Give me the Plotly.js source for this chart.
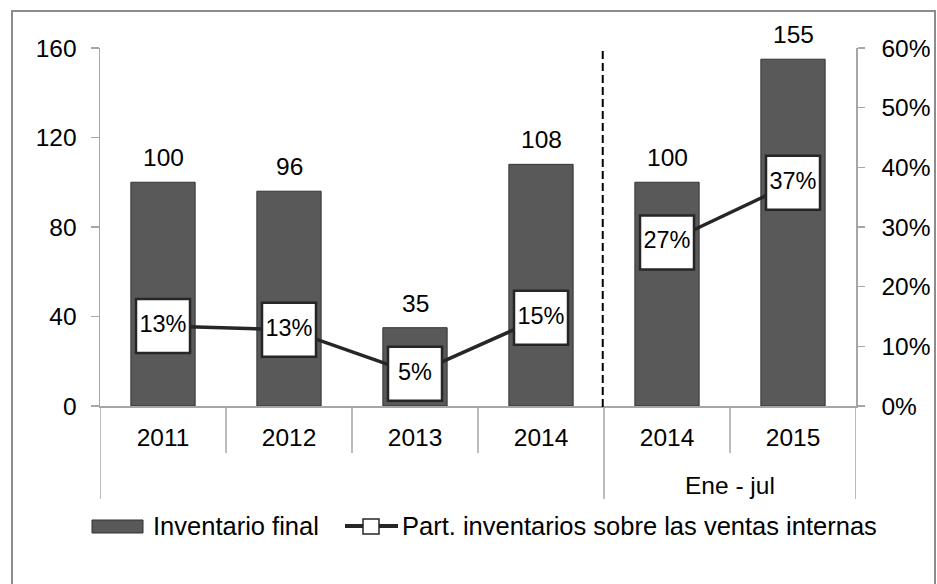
<!DOCTYPE html>
<html>
<head>
<meta charset="utf-8">
<script src="https://cdn.plot.ly/plotly-3.0.1.min.js"></script>
<style>html,body{margin:0;padding:0;background:#fff;}#chart{width:937px;height:584px;}</style>
</head>
<body>
<div id="chart"></div>
<script>
// ---- data ----
var categories = ["2011", "2012", "2013", "2014", "2014", "2015"];
var inventarioFinal = [100, 96, 35, 108, 100, 155];
var participacion = [13.4, 12.8, 5.4, 14.8, 27.4, 37.4];
var participacionLabels = ["13%", "13%", "5%", "15%", "27%", "37%"];
var leftTicks = [0, 40, 80, 120, 160];
var rightTicks = [0, 10, 20, 30, 40, 50, 60];
var rightTickText = ["0%", "10%", "20%", "30%", "40%", "50%", "60%"];
var periodLabel = "Ene - jul";
var legendBar = "Inventario final";
var legendLine = "Part. inventarios sobre las ventas internas";

var FONT = '"Liberation Sans", Arial, sans-serif';
var idx = categories.map(function (c, i) { return i; });
var annualIdx = [0, 1, 2, 3];
var periodIdx = [4, 5];

// geometry helpers (plot area: x 100..856, y 48..406)
var L = 100, R = 856, T = 48, B = 406;
function px(x) { return (x - L) / (R - L); }
function py(y) { return (B - y) / (B - T); }

var bars = {
  type: 'bar', x: idx, y: inventarioFinal, width: 0.51,
  marker: { color: '#595959', line: { color: '#333333', width: 1 } },
  showlegend: false, hoverinfo: 'y'
};

function lineTrace(ix) {
  return {
    type: 'scatter', mode: 'lines+markers+text', yaxis: 'y2',
    x: ix, y: ix.map(function (i) { return participacion[i]; }),
    text: ix.map(function (i) { return participacionLabels[i]; }),
    textposition: 'middle center',
    textfont: { family: FONT, size: 23.5, color: '#000' },
    line: { color: '#262626', width: 3.5 },
    marker: { symbol: 'square', size: 54, color: '#ffffff', line: { color: '#262626', width: 2.5 } },
    cliponaxis: false, showlegend: false, hoverinfo: 'y'
  };
}

var annotations = idx.map(function (i) {
  return {
    x: i, y: inventarioFinal[i], xref: 'x', yref: 'y', text: String(inventarioFinal[i]),
    showarrow: false, yanchor: 'bottom', yshift: 9,
    font: { family: FONT, size: 24.5, color: '#000' }
  };
});
annotations.push({
  x: (periodIdx[0] + periodIdx[1]) / 2, xref: 'x', y: py(485), yref: 'paper', text: periodLabel,
  showarrow: false, yanchor: 'middle', font: { family: FONT, size: 24.5, color: '#000' }
});
annotations.push({
  x: px(151), y: py(526), xref: 'paper', yref: 'paper', text: legendBar, showarrow: false,
  xanchor: 'left', yanchor: 'middle', font: { family: FONT, size: 25.5, color: '#000' }
});
annotations.push({
  x: px(400), y: py(526), xref: 'paper', yref: 'paper', text: legendLine, showarrow: false,
  xanchor: 'left', yanchor: 'middle', font: { family: FONT, size: 25.5, color: '#000' }
});

var GRID = '#a6a6a6';
var shapes = [];
// outer frame
shapes.push({ type: 'rect', xref: 'paper', yref: 'paper', x0: px(12), x1: px(935), y0: py(600), y1: py(11),
  line: { color: '#8c8c8c', width: 2 }, fillcolor: 'rgba(0,0,0,0)', layer: 'below' });
// category dividers below axis
[0.5, 1.5, 2.5, 4.5].forEach(function (b) {
  shapes.push({ type: 'line', xref: 'x', yref: 'paper', x0: b, x1: b, y0: 0, y1: py(453), line: { color: GRID, width: 1.5 } });
});
[-0.5, 3.5, 5.5].forEach(function (b) {
  shapes.push({ type: 'line', xref: 'x', yref: 'paper', x0: b, x1: b, y0: 0, y1: py(499), line: { color: GRID, width: 1.5 } });
});
// dashed separator
shapes.push({ type: 'line', xref: 'x', yref: 'paper', x0: 3.49, x1: 3.49, y0: py(407), y1: py(50),
  line: { color: '#000', width: 2, dash: '8px,4px' } });
// legend symbols
shapes.push({ type: 'rect', xref: 'paper', yref: 'paper', x0: px(92), x1: px(143), y0: py(533), y1: py(520),
  fillcolor: '#595959', line: { color: '#333333', width: 1 } });
shapes.push({ type: 'line', xref: 'paper', yref: 'paper', x0: px(345), x1: px(398), y0: py(526), y1: py(526),
  line: { color: '#262626', width: 4 } });
shapes.push({ type: 'rect', xref: 'paper', yref: 'paper', x0: px(363), x1: px(379), y0: py(534), y1: py(519),
  fillcolor: '#ffffff', line: { color: '#262626', width: 1.5 } });

var layout = {
  width: 937, height: 584,
  margin: { l: L, r: 937 - R, t: T, b: 584 - B, pad: 0 },
  paper_bgcolor: '#ffffff', plot_bgcolor: 'rgba(0,0,0,0)',
  showlegend: false, bargap: 0.49,
  font: { family: FONT, color: '#000' },
  xaxis: {
    range: [-0.5, 5.5], tickvals: idx, ticktext: categories,
    showline: true, linecolor: GRID, linewidth: 1.5, showgrid: false, zeroline: false,
    ticks: 'outside', ticklen: 9, tickcolor: 'rgba(0,0,0,0)',
    tickfont: { family: FONT, size: 24.5, color: '#000' }, fixedrange: true
  },
  yaxis: {
    range: [0, 160], tickvals: leftTicks, showline: true, linecolor: GRID, linewidth: 1.5,
    showgrid: false, zeroline: false, ticks: 'outside', ticklen: 8, tickcolor: GRID, tickwidth: 1.5,
    ticklabelstandoff: 9,
    tickfont: { family: FONT, size: 24.5, color: '#000' }, fixedrange: true
  },
  yaxis2: {
    range: [0, 60], tickvals: rightTicks, ticktext: rightTickText, overlaying: 'y', side: 'right',
    showline: true, linecolor: GRID, linewidth: 1.5, showgrid: false, zeroline: false,
    ticks: 'outside', ticklen: 7, tickcolor: GRID, tickwidth: 1.5, ticklabelstandoff: 12,
    tickfont: { family: FONT, size: 24.5, color: '#000' }, fixedrange: true
  },
  annotations: annotations,
  shapes: shapes
};

Plotly.newPlot('chart', [bars, lineTrace(annualIdx), lineTrace(periodIdx)], layout,
  { displayModeBar: false, staticPlot: true });
</script>
</body>
</html>
